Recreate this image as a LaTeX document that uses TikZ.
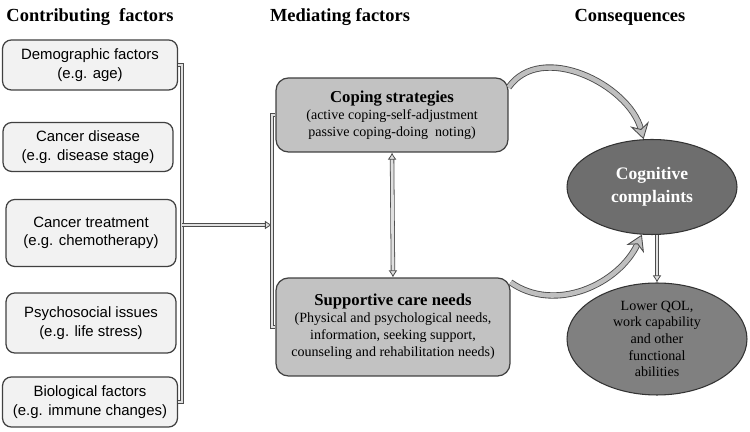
\documentclass[tikz,border=0pt]{standalone}
\usepackage{fontspec}
\setmainfont{Liberation Serif}
\newfontfamily\arialfont{Liberation Sans}
\usetikzlibrary{shapes.geometric, arrows.meta}

\begin{document}
\begin{tikzpicture}[x = 0.02cm, y = 0.02cm,
  heading/.style = {font = \fontsize{10.5}{12}\selectfont\bfseries},
  factor/.style = {draw = black!75, fill = black!5, rounded corners = 5pt, line width = 0.7pt, align = center, inner sep = 2pt, font = \arialfont\fontsize{8.5}{10.5}\selectfont},
  mediator/.style = {draw = black!75, fill = black!24, rounded corners = 7pt, line width = 0.7pt, align = center, inner sep = 2pt, font = \fontsize{8}{9.6}\selectfont},
  outcome/.style = {ellipse, draw = black!80, line width = 0.6pt, align = center, inner sep = 0pt},
  pipe/.style = {draw = black!70, line width = 0.45pt, double = black!12, double distance = 1.6pt},
  tip/.style = {-{Latex[length = 4pt, width = 5pt, fill = black!12]}},
  twotips/.style = {{Latex[length = 4pt, width = 5pt, fill = black!12]}-{Latex[length = 4pt, width = 5pt, fill = black!12]}},
  curvearrow/.style = {draw = black!70, line width = 0.5pt, double = black!25, double distance = 2.6pt, -{Stealth[length = 9pt, width = 11pt, inset = 3pt, fill = black!25]}}]

  \useasboundingbox (0, 0) rectangle (750, 432);

  % Headings
  \node[heading] (hcontrib) at (90, 415) {Contributing\enspace factors};
  \node[heading] (hmediate) at (340, 415) {Mediating factors};
  \node[heading] (hconseq) at (630, 415) {Consequences};

  % Contributing factors
  \node[factor, minimum width = 3.5cm, minimum height = 1cm] (demo) at (90, 367) {Demographic factors\\(e.g. age)};
  \node[factor, minimum width = 3.4cm, minimum height = 0.98cm] (disease) at (88, 285) {Cancer disease\\(e.g. disease stage)};
  \node[factor, minimum width = 3.4cm, minimum height = 1.34cm] (treatment) at (91, 199) {Cancer treatment\\(e.g. chemotherapy)};
  \node[factor, minimum width = 3.4cm, minimum height = 1.2cm] (psycho) at (91, 109) {Psychosocial issues\\(e.g. life stress)};
  \node[factor, minimum width = 3.5cm, minimum height = 1cm] (bio) at (90, 30) {Biological factors\\(e.g. immune changes)};

  % Mediating factors
  \node[mediator, minimum width = 4.64cm, minimum height = 1.48cm] (coping) at (392, 317) {{\fontsize{9.5}{11}\selectfont\bfseries Coping strategies}\\(active coping-self-adjustment\\passive coping-doing\enspace noting)};
  \node[mediator, minimum width = 4.68cm, minimum height = 1.96cm] (needs) at (393, 105) {{\fontsize{9.5}{11}\selectfont\bfseries Supportive care needs}\\(Physical and psychological needs,\\information, seeking support,\\counseling and rehabilitation needs)};

  % Consequences
  \node[outcome, fill = black!57, text = white, font = \fontsize{10}{13}\selectfont\bfseries, minimum width = 3.4cm, minimum height = 1.9cm] (cognitive) at (652, 245) {Cognitive\\complaints};
  \node[outcome, fill = black!50, font = \fontsize{8}{9.5}\selectfont, minimum width = 3.6cm, minimum height = 2.24cm] (qol) at (657, 93) {Lower QOL,\\work capability\\and other\\functional\\abilities};

  % Connectors
  \coordinate (lx) at (182, 207);
  \coordinate (mx) at (272, 207);
  \draw[pipe] (demo.east) -| (lx) |- (bio.east);
  \draw[pipe, tip] (lx) -- (mx);
  \draw[pipe] (coping.west) -| (mx) |- (needs.west);
  \draw[pipe, twotips] (coping.south) -- (needs.north);
  \draw[pipe, tip] (cognitive.south -| qol.north) -- (qol.north);
  \draw[curvearrow] ([yshift = -0.2cm]coping.north east) to[out = 55, in = 105] (cognitive.100);
  \draw[curvearrow] ([yshift = -0.1cm]needs.north east) to[out = -35, in = -115] (cognitive.258);

\end{tikzpicture}
\end{document}
